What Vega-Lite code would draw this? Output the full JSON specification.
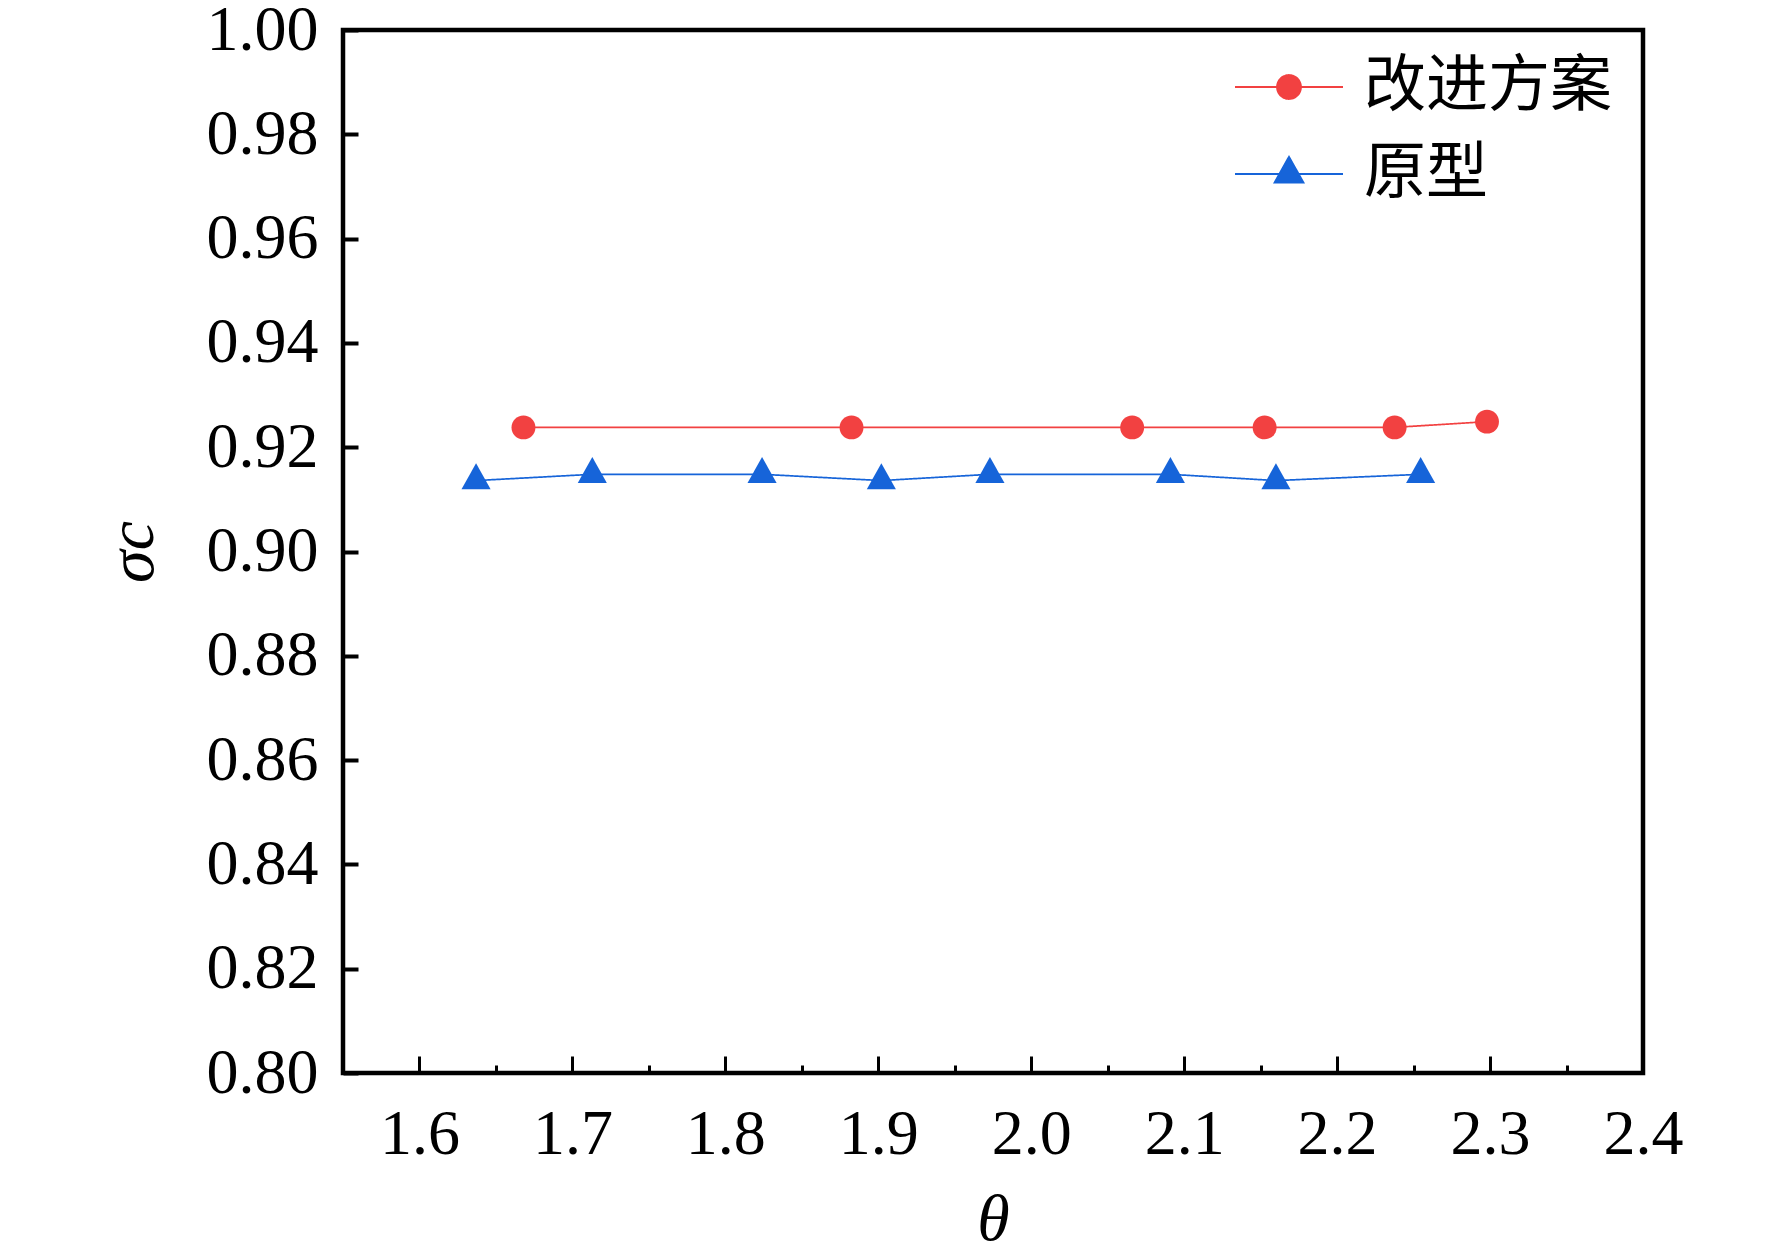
{
  "$schema": "https://vega.github.io/schema/vega-lite/v6.json",
  "width": 1300,
  "height": 1043,
  "autosize": "none",
  "padding": {"left": 343, "top": 30, "right": 129, "bottom": 181},
  "background": "white",
  "config": {
    "view": {"stroke": "black", "strokeWidth": 4.5},
    "axis": {
      "grid": false,
      "domain": false,
      "labelFont": "Liberation Serif",
      "labelFontSize": 64,
      "labelColor": "black",
      "titleFont": "Liberation Serif",
      "titleFontSize": 66,
      "titleFontStyle": "italic",
      "titleFontWeight": "normal",
      "titleColor": "black",
      "tickColor": "black"
    },
    "legend": {
      "orient": "none",
      "legendX": 915,
      "legendY": 26,
      "padding": 0,
      "labelFont": "Noto Sans CJK SC",
      "labelFontSize": 62,
      "labelColor": "black",
      "labelLimit": 500,
      "labelOffset": 44,
      "rowPadding": 25,
      "symbolSize": 2916
    }
  },
  "data": {
    "values": [
      {"theta": 1.668, "sigma": 0.9238, "series": "改进方案"},
      {"theta": 1.8825, "sigma": 0.9238, "series": "改进方案"},
      {"theta": 2.066, "sigma": 0.9238, "series": "改进方案"},
      {"theta": 2.1526, "sigma": 0.9238, "series": "改进方案"},
      {"theta": 2.2376, "sigma": 0.9238, "series": "改进方案"},
      {"theta": 2.298, "sigma": 0.9249, "series": "改进方案"},
      {"theta": 1.637, "sigma": 0.9136, "series": "原型"},
      {"theta": 1.713, "sigma": 0.9148, "series": "原型"},
      {"theta": 1.824, "sigma": 0.9148, "series": "原型"},
      {"theta": 1.902, "sigma": 0.9136, "series": "原型"},
      {"theta": 1.973, "sigma": 0.9148, "series": "原型"},
      {"theta": 2.091, "sigma": 0.9148, "series": "原型"},
      {"theta": 2.160, "sigma": 0.9136, "series": "原型"},
      {"theta": 2.2546, "sigma": 0.9148, "series": "原型"}
    ]
  },
  "encoding": {
    "x": {
      "field": "theta",
      "type": "quantitative",
      "scale": {"domain": [1.55, 2.4], "nice": false, "zero": false},
      "axis": {
        "title": "θ",
        "values": [1.6, 1.65, 1.7, 1.75, 1.8, 1.85, 1.9, 1.95, 2.0, 2.05, 2.1, 2.15, 2.2, 2.25, 2.3, 2.35, 2.4],
        "labelExpr": "round(datum.value * 100) % 10 === 0 ? format(datum.value, '.1f') : ''",
        "tickSize": {"condition": {"test": "round(datum.value * 100) % 10 === 0", "value": -17}, "value": -8},
        "tickWidth": 3,
        "labelPadding": 46,
        "labelFlush": false,
        "labelOverlap": false,
        "titlePadding": 12
      }
    },
    "y": {
      "field": "sigma",
      "type": "quantitative",
      "scale": {"domain": [0.8, 1.0], "nice": false, "zero": false},
      "axis": {
        "title": "σc",
        "values": [0.8, 0.82, 0.84, 0.86, 0.88, 0.9, 0.92, 0.94, 0.96, 0.98, 1.0],
        "format": ".2f",
        "tickSize": -15,
        "tickWidth": 4,
        "labelPadding": 40,
        "labelFlush": false,
        "labelOverlap": false,
        "titlePadding": 40
      }
    },
    "color": {
      "field": "series",
      "type": "nominal",
      "scale": {"domain": ["改进方案", "原型"], "range": ["#f24141", "#1664d9"]},
      "legend": null
    }
  },
  "layer": [
    {
      "mark": {"type": "line", "strokeWidth": 1.7},
      "encoding": {
        "strokeDash": {
          "field": "series",
          "type": "nominal",
          "sort": ["改进方案", "原型"],
          "scale": {"range": [[1, 0], [1, 0]]},
          "legend": {
            "title": null,
            "encoding": {
              "symbols": {
                "shape": {
                  "condition": {"test": "datum.value === '原型'", "value": "M-2,0L2,0M0,-0.64L0.537,0.32L-0.537,0.32Z"},
                  "value": "M-2,0L2,0M0.444,0A0.444,0.444,0,1,1,-0.444,0A0.444,0.444,0,1,1,0.444,0Z"
                },
                "fill": {
                  "condition": {"test": "datum.value === '原型'", "value": "#1664d9"},
                  "value": "#f24141"
                },
                "stroke": {
                  "condition": {"test": "datum.value === '原型'", "value": "#1664d9"},
                  "value": "#f24141"
                },
                "fillOpacity": {"value": 1},
                "strokeOpacity": {"value": 1},
                "strokeWidth": {"value": 1.8},
                "size": {"value": 2916}
              }
            }
          }
        }
      }
    },
    {
      "mark": {"type": "point", "filled": true, "opacity": 1, "size": 2704},
      "encoding": {
        "shape": {
          "field": "series",
          "type": "nominal",
          "scale": {
            "domain": ["改进方案", "原型"],
            "range": [
              "M0.46,0A0.46,0.46,0,1,1,-0.46,0A0.46,0.46,0,1,1,0.46,0Z",
              "M0,-0.667L0.56,0.333L-0.56,0.333Z"
            ]
          },
          "legend": null
        }
      }
    }
  ]
}
